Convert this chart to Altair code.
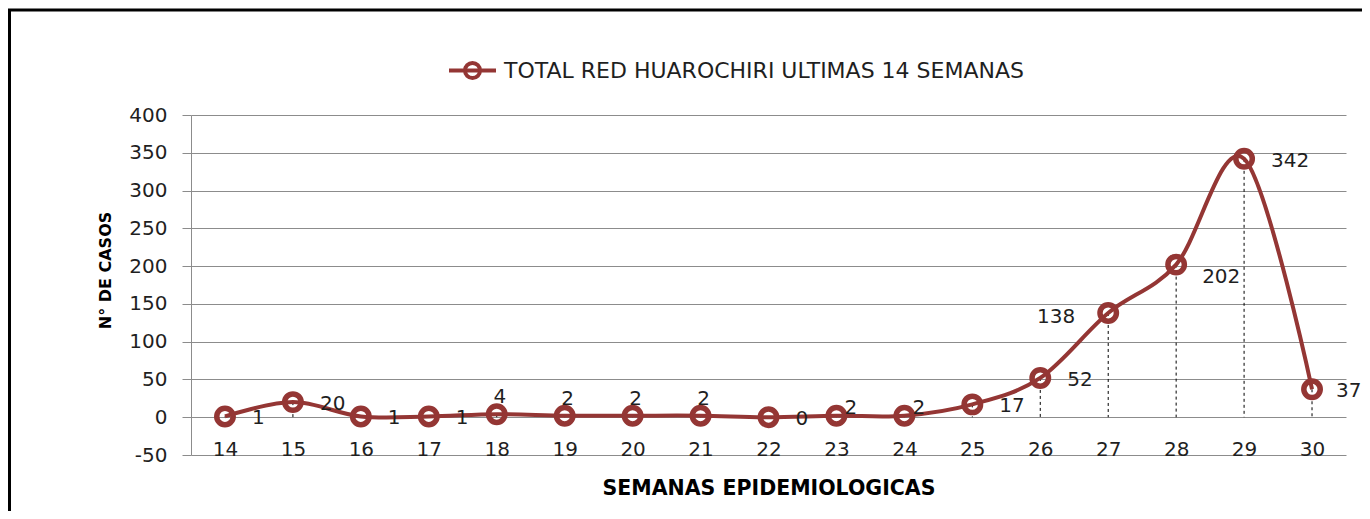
import altair as alt
import pandas as pd

# ---- data ----
semanas = [14, 15, 16, 17, 18, 19, 20, 21, 22, 23, 24, 25, 26, 27, 28, 29, 30]
casos = [1, 20, 1, 1, 4, 2, 2, 2, 0, 2, 2, 17, 52, 138, 202, 342, 37]
label_pos = ["r", "r", "r", "r", "a", "a", "a", "a", "r", "ar", "ar", "r", "r", "l", "rb", "r", "re"]
serie = "TOTAL RED HUAROCHIRI ULTIMAS 14 SEMANAS"
y_ticks = [-50, 0, 50, 100, 150, 200, 250, 300, 350, 400]
x_ticks = semanas

RED = "#943634"
GRID = "#8c8c8c"
TXT = "#1f1f1f"
FONT = "DejaVu Sans"

df = pd.DataFrame({"semana": semanas, "casos": casos, "pos": label_pos, "serie": serie})

W, H = 1155, 340

x_enc = alt.X(
    "semana:Q",
    scale=alt.Scale(domain=[13.5, 30.5], nice=False, zero=False),
    axis=alt.Axis(
        values=x_ticks, grid=False, ticks=False, domain=False,
        labelFont=FONT, labelFontSize=20, labelColor=TXT,
        labelBaseline="alphabetic", labelPadding=0, labelFlush=False,
        labelExpr="'' + datum.value",
        title="SEMANAS  EPIDEMIOLOGICAS", titleFont=FONT, titleFontSize=20.5,
        titleFontWeight="bold", titleColor="#000000",
        titleBaseline="alphabetic", titleY=39,
    ),
)
y_enc = alt.Y(
    "casos:Q",
    scale=alt.Scale(domain=[-50, 400], nice=False, zero=False),
    axis=alt.Axis(
        values=y_ticks, grid=True, gridColor=GRID, gridWidth=1,
        domain=True, domainColor=GRID, ticks=True, tickColor=GRID, tickSize=9,
        labelFont=FONT, labelFontSize=20, labelColor=TXT, labelPadding=15,
        labelExpr="'' + datum.value",
        title="N° DE CASOS", titleFont=FONT, titleFontSize=16,
        titleFontWeight="bold", titleColor="#000000",
        titleX=-86, titleY=155, titleAlign="center", titleBaseline="middle", titleAngle=-90,
    ),
)

legend_path = "M-1,0H1M0.32,0A0.32,0.32,0,1,1,-0.32,0A0.32,0.32,0,1,1,0.32,0Z"

base = alt.Chart(df)

drops = base.mark_rule(color="#000000", strokeWidth=1, strokeDash=[3, 3]).encode(
    x=x_enc, y=y_enc, y2=alt.datum(0)
)

line = base.mark_line(interpolate="cardinal", tension=0, strokeWidth=4).encode(
    x=x_enc, y=y_enc,
    color=alt.Color(
        "serie:N",
        scale=alt.Scale(range=[RED]),
        legend=alt.Legend(
            title=None, orient="none", legendX=256, legendY=-70, padding=0,
            symbolType=legend_path, symbolSize=2209, symbolStrokeWidth=4,
            symbolFillColor="transparent", symbolStrokeColor=RED,
            labelFont=FONT, labelFontSize=22, labelColor=TXT, labelOffset=6,
            labelLimit=0,
        ),
    ),
)

points = base.mark_point(
    shape="circle", filled=False, size=270, strokeWidth=5.5, color=RED, opacity=1
).encode(x=x_enc, y=y_enc)

label_styles = {
    "r": dict(align="left", dx=27, dy=2),
    "re": dict(align="left", dx=24, dy=2),
    "a": dict(align="center", dx=3, dy=-17),
    "ar": dict(align="left", dx=8, dy=-8),
    "l": dict(align="right", dx=-33, dy=4),
    "rb": dict(align="left", dx=26, dy=12),
}
labels = [
    base.transform_filter(alt.datum.pos == k).mark_text(
        baseline="middle", font=FONT, fontSize=20, color=TXT, **st
    ).encode(x=x_enc, y=y_enc, text="casos:Q")
    for k, st in label_styles.items()
]

frame_df = pd.DataFrame({"f": [0]})
frame_top = alt.Chart(frame_df).mark_rule(color="#000000", strokeWidth=3).encode(
    x=alt.value(-183), x2=alt.value(W + 40), y=alt.value(-105)
)
frame_left = alt.Chart(frame_df).mark_rule(color="#000000", strokeWidth=3).encode(
    x=alt.value(-181.5), y=alt.value(-106), y2=alt.value(H + 80)
)

chart = alt.layer(frame_top, frame_left, drops, line, points, *labels).properties(
    width=W, height=H,
    autosize=alt.AutoSizeParams(type="none"),
    padding={"left": 183, "top": 107, "right": 16, "bottom": 56},
    background="#ffffff",
).configure_view(stroke=None)

chart.save("out.html", embed_options={"renderer": "svg", "actions": False})
